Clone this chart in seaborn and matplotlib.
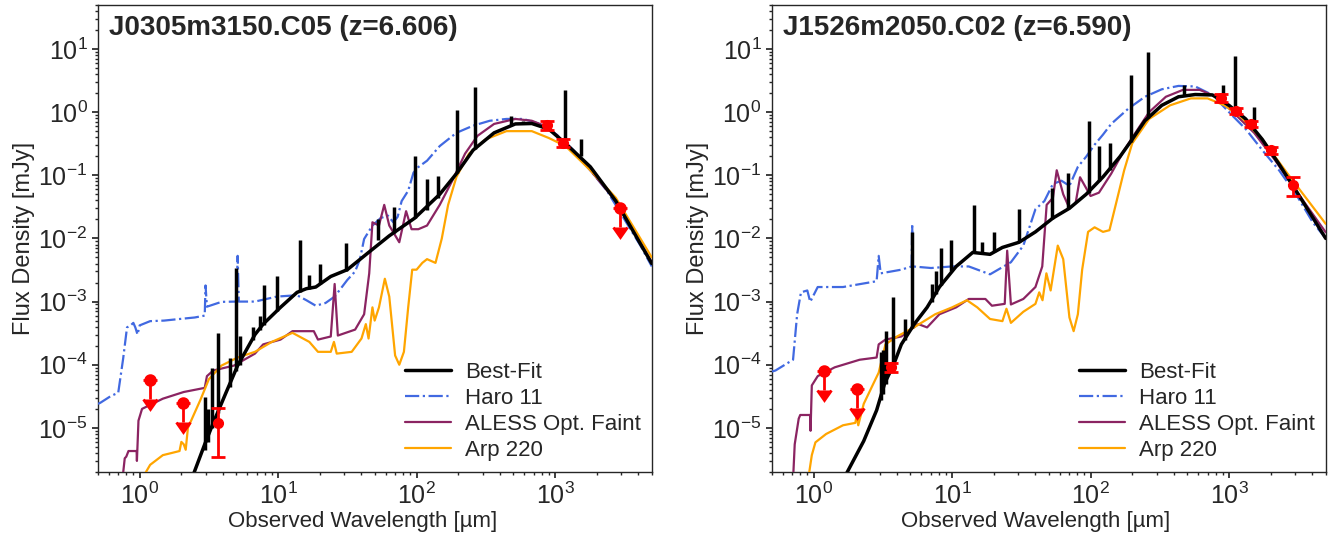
import matplotlib
matplotlib.use("Agg")
import matplotlib.pyplot as plt
import seaborn as sns
import numpy as np

# ---------------- left panel: J0305m3150.C05 ----------------
haro_wl_a = [0.5, 0.52, 0.62, 0.70, 0.76, 0.81, 0.86, 0.90, 0.93, 0.965, 1.0, 1.19, 1.5, 1.94, 2.5, 2.95,
             2.99, 3.06, 3.9, 5.0, 5.1, 5.2, 6.8, 9.8, 13.7, 16, 18.7, 22, 25.6, 31.6, 36, 39, 41.8, 48,
             55, 62, 68, 73, 78, 87, 95, 103, 119, 147, 194, 256, 338, 446, 590, 780, 1030, 1360, 1800,
             2370, 3130, 4140, 5000]
haro_fx_a = [2.4e-5, 2.5e-5, 3.2e-5, 3.6e-5, 1.26e-4, 3.9e-4, 4.2e-4, 4.6e-4, 3.9e-4, 3.0e-4, 4.2e-4,
             4.9e-4, 5.0e-4, 5.3e-4, 5.6e-4, 6.0e-4, 1.8e-3, 8.3e-4, 9.9e-4, 1.0e-3, 5.3e-3, 1.0e-3,
             1.0e-3, 1.2e-3, 1.26e-3, 1.05e-3, 8.6e-4, 9.5e-4, 1.2e-3, 2.2e-3, 3.0e-3, 4.7e-3, 9.8e-3,
             1.6e-2, 2.1e-2, 2.3e-2, 1.8e-2, 2.2e-2, 3.9e-2, 5.7e-2, 1.1e-1, 0.135, 0.17, 0.29, 0.47,
             0.61, 0.73, 0.78, 0.78, 0.65, 0.44, 0.25, 0.12, 0.057, 0.021, 7.7e-3, 3.6e-3]

aless_wl_a = [0.75, 0.78, 0.80, 0.83, 0.95, 0.955, 0.98, 1.04, 1.47, 2.08, 2.95, 3.06, 3.4, 4.8, 6.8, 7.8,
              10.4, 12.7, 18.1, 19.4, 24, 25.6, 27, 36, 41.8, 45.5, 48, 53.5, 58.4, 63.5, 75, 84, 92, 103,
              119, 147, 181, 224, 275, 363, 517, 680, 900, 1190, 1800, 2750, 5000]
aless_fx_a = [1.5e-6, 3.3e-6, 3.5e-6, 4.3e-6, 4.3e-6, 3.0e-6, 1.3e-5, 2.0e-5, 2.9e-5, 3.7e-5, 4.3e-5,
              6.6e-5, 8.1e-5, 9.7e-5, 1.5e-4, 2.1e-4, 2.5e-4, 3.4e-4, 3.4e-4, 2.5e-4, 2.8e-4, 1.9e-3,
              2.9e-4, 3.6e-4, 6.3e-4, 2.8e-3, 1.8e-2, 1.6e-2, 3.4e-2, 1.6e-2, 8.7e-3, 2.7e-2, 1.4e-2,
              1.4e-2, 1.6e-2, 3.4e-2, 8.2e-2, 0.22, 0.42, 0.65, 0.78, 0.73, 0.57, 0.32, 0.12, 0.039, 4.2e-3]

arp_wl_a = [1.08, 1.11, 1.19, 1.47, 1.7, 1.94, 2.0, 2.08, 2.15, 2.23, 2.75, 3.16, 3.9, 5.1, 6.8, 9.0,
            12.7, 16.8, 19.4, 24, 25.3, 26.5, 34, 40, 43, 45, 48, 49.8, 53.5, 59, 63.5, 70, 75, 81, 87,
            93, 100, 110, 119, 137, 152, 169, 194, 239, 315, 446, 680, 900, 1190, 1800, 2750, 5000]
arp_fx_a = [1.5e-6, 2e-6, 2.6e-6, 3.7e-6, 4.0e-6, 4.3e-6, 6.0e-6, 5.5e-6, 4.5e-6, 1.0e-5, 2.8e-5, 5.9e-5,
            9.7e-5, 1.3e-4, 1.6e-4, 2.3e-4, 3.2e-4, 2.3e-4, 1.6e-4, 1.6e-4, 2.3e-4, 1.5e-4, 1.6e-4,
            2.6e-4, 4.4e-4, 2.6e-4, 8.1e-4, 5e-4, 8.1e-4, 2.3e-3, 1.2e-3, 1.4e-4, 1.0e-4, 1.6e-4, 8.1e-4,
            3.2e-3, 3.2e-3, 4.1e-3, 4.7e-3, 4.1e-3, 9.9e-3, 3.4e-2, 9.4e-2, 0.22, 0.37, 0.50, 0.50, 0.39,
            0.29, 0.12, 0.044, 5.0e-3]

best_wl_a = [2.3, 2.48, 2.95, 3.4, 4.2, 5.1, 6.8, 7.8, 10.4, 13.7, 16, 18.7, 24, 31.6, 45, 63.5, 97, 147,
             194, 256, 363, 517, 680, 900, 1190, 1800, 2750, 5000]
best_fx_a = [1.2e-6, 2e-6, 5.5e-6, 1.2e-5, 3.6e-5, 9.7e-5, 3.0e-4, 4.4e-4, 8.1e-4, 1.4e-3, 1.6e-3, 1.7e-3,
             2.5e-3, 3.2e-3, 6.0e-3, 1.1e-2, 2.1e-2, 5e-2, 0.106, 0.25, 0.47, 0.65, 0.66, 0.54, 0.32,
             0.136, 0.039, 4.0e-3]

line_wl_a = [2.98, 3.1, 3.31, 3.70, 4.48, 5.0, 5.3, 6.6, 7.4, 7.9, 9.8, 14.5, 16.8, 20.0, 31.0, 53, 69,
             98, 119, 142, 196, 265, 478, 590, 1180, 1530]
line_lo_a = [4.5e-6, 6e-6, 1.0e-5, 1.7e-5, 4.5e-5, 8e-5, 1.0e-4, 2.5e-4, 3.5e-4, 4.2e-4, 7e-4, 1.4e-3,
             1.6e-3, 1.9e-3, 3.1e-3, 9.5e-3, 1.2e-2, 2.1e-2, 2.8e-2, 4.3e-2, 0.11, 0.26, 0.62, 0.66, 0.33,
             0.2]
line_hi_a = [3.1e-5, 2.0e-5, 8.8e-5, 3.2e-4, 1.3e-4, 3.4e-3, 2.8e-4, 4.0e-4, 6e-4, 1.8e-3, 2.5e-3, 9.5e-3,
             2.6e-3, 3.9e-3, 8.5e-3, 2.0e-2, 3.2e-2, 0.2, 8.8e-2, 9.6e-2, 1.09, 2.46, 0.86, 0.72, 2.25, 0.37]

det_wl_a = [3.68, 880, 1150]
det_fx_a = [1.2e-5, 0.62, 0.33]
det_er_a = [8.5e-6, 0.1, 0.05]
lim_wl_a = [1.19, 2.05, 2960]
lim_fx_a = [5.8e-5, 2.5e-5, 0.030]

# ---------------- right panel: J1526m2050.C02 ----------------
haro_wl_b = [0.5, 0.53, 0.71, 0.76, 0.81, 0.90, 0.945, 1.07, 1.63, 2.85, 2.95, 3.05, 4.3, 5.1, 5.15, 5.2,
             7.05, 10, 13.2, 18.8, 26.6, 32.7, 40, 46.4, 53.5, 61.7, 70.4, 81, 93, 107, 123, 141, 187,
             247, 327, 432, 570, 760, 1000, 1320, 1740, 2300, 3050, 4030, 5000]
haro_fx_b = [7.8e-5, 8.1e-5, 1.2e-4, 6.3e-4, 1.4e-3, 1.5e-3, 9.9e-4, 1.7e-3, 1.7e-3, 2.1e-3, 5.3e-3,
             2.8e-3, 3.2e-3, 3.6e-3, 1.7e-2, 3.6e-3, 3.4e-3, 3.6e-3, 3.6e-3, 2.7e-3, 4.2e-3, 7.7e-3,
             2.9e-2, 3.9e-2, 7.3e-2, 8.2e-2, 6.8e-2, 0.136, 0.197, 0.305, 0.44, 0.65, 1.13, 1.75, 2.3,
             2.6, 2.55, 1.87, 1.0, 0.54, 0.25, 0.12, 0.05, 0.018, 0.010]

aless_wl_b = [0.71, 0.73, 0.78, 0.80, 0.945, 0.95, 0.97, 1.07, 1.42, 2.15, 2.85, 2.95, 3.3, 4.3, 5.7, 6.6,
              8.1, 10.7, 13.2, 17.4, 19.4, 24, 25, 26.6, 32.7, 40, 44.8, 48.2, 53.5, 57, 63.5, 70.4, 78,
              84, 100, 115, 141, 175, 215, 265, 350, 465, 615, 810, 1070, 1520, 2150, 3050, 5000]
aless_fx_b = [1.5e-6, 5.5e-6, 1.4e-5, 1.6e-5, 1.6e-5, 9e-6, 4.7e-5, 6.6e-5, 9.1e-5, 1.2e-4, 1.3e-4,
              2.1e-4, 2.5e-4, 2.8e-4, 4.4e-4, 3.9e-4, 6.3e-4, 8.1e-4, 1.1e-3, 1.1e-3, 8.6e-4, 9.2e-4,
              6.4e-3, 9.0e-4, 1.1e-3, 1.7e-3, 3.6e-3, 3.4e-2, 4.4e-2, 0.12, 5.0e-2, 3.0e-2, 3.6e-2, 9.3e-2,
              4.7e-2, 5.3e-2, 0.106, 0.25, 0.50, 1.0, 1.75, 2.25, 2.25, 1.75, 1.0, 0.47, 0.174, 0.057,
              0.0125]

arp_wl_b = [0.92, 0.93, 0.97, 1.03, 1.23, 1.63, 2.0, 2.05, 2.1, 2.3, 2.65, 2.95, 3.3, 4.0, 5.3, 7.55, 10,
            12.8, 15.2, 18.8, 23.1, 24.7, 26.6, 32.7, 40, 42.6, 45, 48, 51.5, 58, 63.5, 70.4, 75.5, 81,
            87, 96, 107, 123, 137, 152, 175, 200, 265, 375, 530, 700, 930, 1230, 1740, 2650, 5000]
arp_fx_b = [1.5e-6, 2e-6, 3.7e-6, 5.9e-6, 8e-6, 1.1e-5, 1.2e-5, 1.6e-5, 1.1e-5, 2.4e-5, 4.6e-5, 7.5e-5,
            2.1e-4, 2.8e-4, 3.9e-4, 6.3e-4, 8.1e-4, 1.05e-3, 8.1e-4, 5.3e-4, 4.9e-4, 7.7e-4, 4.6e-4,
            6.9e-4, 9.2e-4, 1.4e-3, 1.05e-3, 2.8e-3, 1.5e-3, 7.7e-3, 4.7e-3, 5.6e-4, 3.4e-4, 6.3e-4,
            3.2e-3, 1.27e-2, 1.5e-2, 1.27e-2, 1.35e-2, 3.4e-2, 0.12, 0.32, 0.78, 1.28, 1.65, 1.65, 1.28,
            0.83, 0.37, 0.106, 0.017]

best_wl_b = [1.6, 1.75, 2.3, 2.85, 3.27, 3.76, 4.3, 5.33, 6.6, 8.1, 10.7, 14.1, 18.8, 23.1, 30.5, 40,
             53.5, 70.4, 93, 123, 163, 200, 247, 327, 432, 570, 760, 1000, 1320, 1740, 2300, 3050, 5000]
best_fx_b = [1.4e-6, 2e-6, 6.2e-6, 1.9e-5, 5.2e-5, 9.7e-5, 2.1e-4, 4.4e-4, 8.1e-4, 1.7e-3, 3.6e-3, 6.0e-3,
             5.6e-3, 7.2e-3, 8.7e-3, 1.27e-2, 2.1e-2, 3.0e-2, 5.0e-2, 0.094, 0.197, 0.37, 0.73, 1.28,
             1.75, 1.9, 1.87, 1.28, 0.78, 0.37, 0.15, 0.057, 0.010]

line_wl_b = [3.05, 3.16, 3.34, 3.76, 4.54, 5.1, 7.15, 7.7, 8.3, 9.9, 14.3, 16.5, 20, 30.5, 52.5, 68.4, 97,
             115, 139, 195, 260, 470, 900, 1100, 1520]
line_lo_b = [2.8e-5, 3.5e-5, 5e-5, 1e-4, 2.5e-4, 3.8e-4, 1.0e-3, 1.3e-3, 1.8e-3, 3.0e-3, 6e-3, 5.8e-3,
             6.0e-3, 8.7e-3, 2.0e-2, 2.9e-2, 5.3e-2, 8e-2, 0.12, 0.34, 0.8, 1.8, 1.8, 1.2, 0.55]
line_hi_b = [1.6e-4, 1.7e-4, 3.4e-4, 1.2e-3, 5.3e-4, 1.27e-2, 1.9e-3, 3.0e-3, 7.0e-3, 9.3e-3, 3.4e-2,
             8.7e-3, 1.27e-2, 2.9e-2, 6.4e-2, 0.108, 0.73, 0.29, 0.32, 3.85, 8.9, 2.7, 2.7, 7.8, 1.2]

det_wl_b = [3.6, 870, 1130, 1450, 2000, 2900]
det_fx_b = [9.3e-5, 1.7, 1.06, 0.65, 0.25, 0.07]
det_er_b = [1.5e-5, 0.25, 0.12, 0.07, 0.03, 0.023]
lim_wl_b = [1.19, 2.05]
lim_fx_b = [8.1e-5, 4.2e-5]

titles = ["J0305m3150.C05 (z=6.606)", "J1526m2050.C02 (z=6.590)"]
x_ticks = [1, 10, 100, 1000]
y_ticks = [1e-5, 1e-4, 1e-3, 1e-2, 1e-1, 1, 10]

panels = [
    dict(haro=(haro_wl_a, haro_fx_a), aless=(aless_wl_a, aless_fx_a), arp=(arp_wl_a, arp_fx_a),
         best=(best_wl_a, best_fx_a), lines=(line_wl_a, line_lo_a, line_hi_a),
         det=(det_wl_a, det_fx_a, det_er_a), lim=(lim_wl_a, lim_fx_a)),
    dict(haro=(haro_wl_b, haro_fx_b), aless=(aless_wl_b, aless_fx_b), arp=(arp_wl_b, arp_fx_b),
         best=(best_wl_b, best_fx_b), lines=(line_wl_b, line_lo_b, line_hi_b),
         det=(det_wl_b, det_fx_b, det_er_b), lim=(lim_wl_b, lim_fx_b)),
]

sns.set_theme(style="ticks")
plt.rcParams["font.family"] = ["Liberation Sans", "DejaVu Sans"]
plt.rcParams["axes.linewidth"] = 1.0

fig = plt.figure(figsize=(13.28, 5.37), dpi=100)
ax_pos = [[0.0738, 0.121, 0.417, 0.870], [0.5813, 0.121, 0.417, 0.870]]

for i, p in enumerate(panels):
    ax = fig.add_axes(ax_pos[i])
    ax.set_xscale("log")
    ax.set_yscale("log")

    sns.lineplot(x=p["best"][0], y=p["best"][1], sort=False, estimator=None, color="black",
                 lw=2.5, label="Best-Fit", ax=ax, zorder=4)
    ax.vlines(p["lines"][0], p["lines"][1], p["lines"][2], color="black", lw=2.5, zorder=4)
    sns.lineplot(x=p["haro"][0], y=p["haro"][1], sort=False, estimator=None, color="royalblue",
                 lw=1.6, linestyle="-.", label="Haro 11", ax=ax, zorder=3)
    sns.lineplot(x=p["aless"][0], y=p["aless"][1], sort=False, estimator=None, color="#8B2462",
                 lw=1.6, label="ALESS Opt. Faint", ax=ax, zorder=3)
    sns.lineplot(x=p["arp"][0], y=p["arp"][1], sort=False, estimator=None, color="orange",
                 lw=1.6, label="Arp 220", ax=ax, zorder=3)

    dw, df, de = p["det"]
    ax.errorbar(dw, df, yerr=de, fmt="o", color="red", ms=7, elinewidth=2, capsize=5,
                capthick=2, zorder=6)
    lw_, lf_ = p["lim"]
    ax.errorbar(lw_, lf_, yerr=np.array(lf_) * 0.5, fmt="o", color="red", ms=7, elinewidth=2,
                uplims=True, capsize=5, mew=2, zorder=6)

    ax.set_xlim(0.5, 5000)
    ax.set_ylim(2e-6, 50)
    ax.set_xticks(x_ticks)
    ax.set_yticks(y_ticks)
    ax.set_xlabel("Observed Wavelength [µm]", fontsize=16, labelpad=3)
    ax.xaxis.set_label_coords(0.477, -0.083)
    ax.set_ylabel("Flux Density [mJy]", fontsize=17, labelpad=2)
    ax.tick_params(axis="both", which="major", labelsize=18, length=4.5, pad=3)
    ax.tick_params(axis="both", which="minor", length=2.5)
    ax.text(0.02, 0.978, titles[i], transform=ax.transAxes, fontsize=20, fontweight="bold",
            ha="left", va="top")
    ax.legend(loc="lower right", frameon=False, fontsize=16, labelspacing=0.22, handlelength=2.1,
              handletextpad=0.6, borderaxespad=0.1)

plt.savefig("out.png", dpi=100)
